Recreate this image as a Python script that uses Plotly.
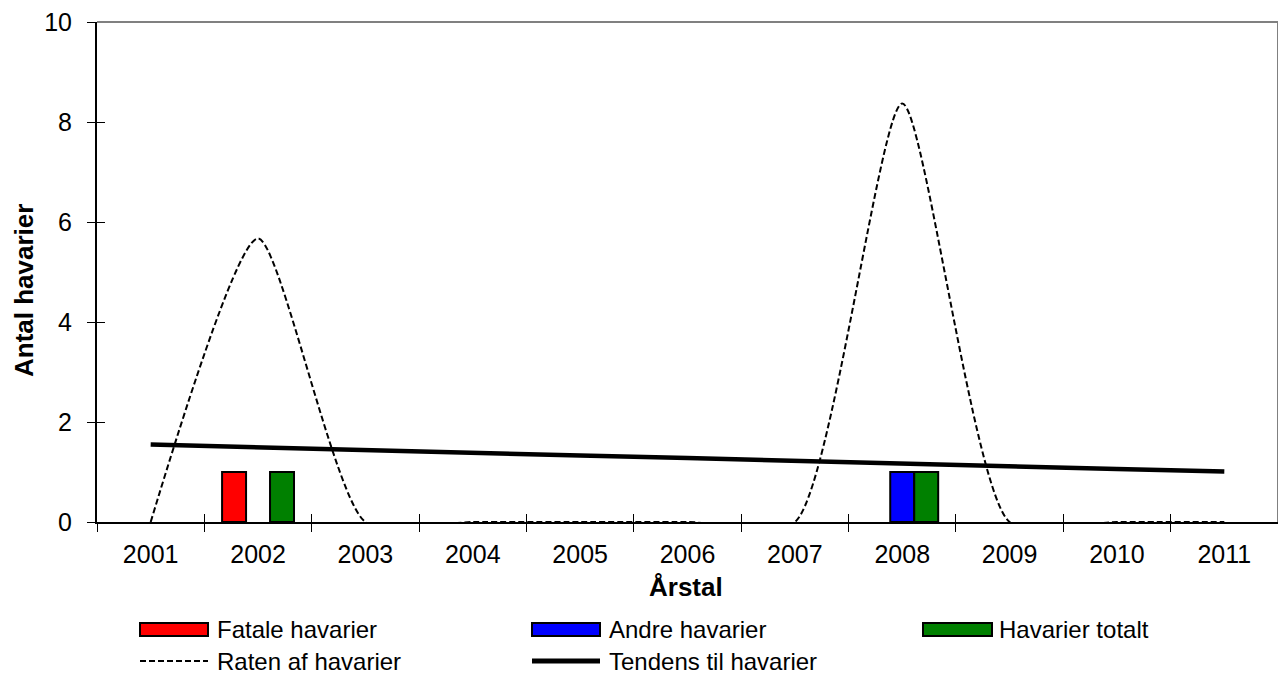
import plotly.graph_objects as go

years = ["2001", "2002", "2003", "2004", "2005", "2006", "2007", "2008", "2009", "2010", "2011"]
fatale = [0, 1, 0, 0, 0, 0, 0, 0, 0, 0, 0]
andre = [0, 0, 0, 0, 0, 0, 0, 1, 0, 0, 0]
totalt = [0, 1, 0, 0, 0, 0, 0, 1, 0, 0, 0]
raten = [0, 5.67, 0, 0, 0, 0, 0, 8.37, 0, 0, 0]
tendens = [1.55, 1.49, 1.44, 1.39, 1.33, 1.28, 1.22, 1.17, 1.11, 1.06, 1.01]

names = ["Fatale havarier", "Andre havarier", "Havarier totalt",
         "Raten af havarier", "Tendens til havarier"]
colors = ["#FF0000", "#0000FF", "#008000"]

# The page body has an 8px default margin; the figure is sized and placed so
# that page pixel coordinates match the reference.
OFF = 8
PAGE_W, PAGE_H = 1286, 674
PL, PT, PR, PB = 97, 22, 1278, 522          # plot area in page pixels
W, H = PAGE_W - OFF, PAGE_H - OFF
L, T = PL - OFF, PT - OFF
R, B = W - (PR - OFF), H - (PB - OFF)
PW, PH = PR - PL, PB - PT
FONT = "Arial, Liberation Sans, sans-serif"


def px(x):
    return (x - PL) / PW


def py(y):
    return (PB - y) / PH


fig = go.Figure()
for vals, name, col in zip([fatale, andre, totalt], names[:3], colors):
    fig.add_trace(go.Bar(x=years, y=vals, name=name, marker_color=col,
                         marker_line_color="black",
                         marker_line_width=[2 if v else 0 for v in vals],
                         showlegend=False))

fig.add_trace(go.Scatter(x=years, y=raten, name=names[3], mode="lines",
                         line=dict(color="black", width=2, dash="6px,3px",
                                   shape="spline", smoothing=0.6),
                         showlegend=False))
fig.add_trace(go.Scatter(x=years, y=tendens, name=names[4], mode="lines",
                         line=dict(color="black", width=4.5),
                         showlegend=False))
# invisible helper trace to carry the inside-tick overlay axes
fig.add_trace(go.Scatter(x=years, y=tendens, xaxis="x2", yaxis="y2", mode="lines",
                         line=dict(width=0), opacity=0, hoverinfo="skip",
                         showlegend=False))

shapes = [
    dict(type="line", xref="paper", yref="paper", x0=0, x1=1, y0=1, y1=1,
         line=dict(color="#808080", width=2)),
    dict(type="line", xref="paper", yref="paper", x0=1, x1=1, y0=0, y1=1,
         line=dict(color="#808080", width=2)),
]
annotations = [
    dict(text="<b>Årstal</b>", xref="paper", yref="paper", x=px(686), y=py(587),
         showarrow=False, xanchor="center", yanchor="middle",
         font=dict(size=26, color="black", family=FONT)),
    dict(text="<b>Antal havarier</b>", xref="paper", yref="paper", x=px(24), y=py(291),
         showarrow=False, xanchor="center", yanchor="middle", textangle=-90,
         font=dict(size=26, color="black", family=FONT)),
]

# legend drawn as keys + labels
key_cols = [(140, 208, 215), (532, 600, 607), (923, 992, 997)]
row1, row2 = 629.5, 661
for i in range(3):
    x0, x1, tx = key_cols[i]
    shapes.append(dict(type="rect", xref="paper", yref="paper",
                       x0=px(x0), x1=px(x1), y0=py(row1 + 6.5), y1=py(row1 - 6.5),
                       fillcolor=colors[i], line=dict(color="black", width=2)))
    annotations.append(dict(text=names[i], xref="paper", yref="paper", x=px(tx), y=py(row1),
                            showarrow=False, xanchor="left", yanchor="middle",
                            font=dict(size=24, color="black", family=FONT)))
line_styles = [dict(color="black", width=2, dash="6px,3px"), dict(color="black", width=5)]
for j in range(2):
    x0, x1, tx = key_cols[j]
    shapes.append(dict(type="line", xref="paper", yref="paper",
                       x0=px(x0), x1=px(x1), y0=py(row2), y1=py(row2),
                       line=line_styles[j]))
    annotations.append(dict(text=names[3 + j], xref="paper", yref="paper", x=px(tx), y=py(row2),
                            showarrow=False, xanchor="left", yanchor="middle",
                            font=dict(size=24, color="black", family=FONT)))

fig.update_layout(
    width=W, height=H,
    margin=dict(l=L, r=R, t=T, b=B, pad=0, autoexpand=False),
    paper_bgcolor="white", plot_bgcolor="white",
    barmode="group", bargap=0.33, bargroupgap=0,
    font=dict(family=FONT, color="black"),
    showlegend=False,
    xaxis=dict(type="category", categoryarray=years, tickson="boundaries",
               ticks="outside", ticklen=8, tickwidth=1, tickcolor="black",
               showline=True, linecolor="black", linewidth=1.5,
               showgrid=False, zeroline=False, layer="below traces",
               tickfont=dict(size=25, family=FONT, color="black"),
               ticklabelstandoff=9, ticklabeloverflow="allow", automargin=False),
    yaxis=dict(range=[0, 10], tickvals=[0, 2, 4, 6, 8, 10], ticks="outside", ticklen=8,
               tickwidth=1, tickcolor="black", showline=True, linecolor="black",
               linewidth=2, showgrid=False, zeroline=False, layer="below traces",
               tickfont=dict(size=25, family=FONT, color="black"),
               ticklabelstandoff=10, ticklabeloverflow="allow", automargin=False),
    xaxis2=dict(type="category", categoryarray=years, overlaying="x", matches="x",
                tickson="boundaries", ticks="inside", ticklen=8, tickwidth=1,
                tickcolor="black", showticklabels=False, showline=False,
                showgrid=False, zeroline=False, side="bottom", automargin=False),
    yaxis2=dict(range=[0, 10], tickvals=[0, 2, 4, 6, 8, 10], overlaying="y", matches="y",
                ticks="inside", ticklen=8, tickwidth=1, tickcolor="black",
                showticklabels=False, showline=False, showgrid=False,
                zeroline=False, side="left", automargin=False),
    shapes=shapes,
    annotations=annotations,
)

fig.write_html("out.html")
